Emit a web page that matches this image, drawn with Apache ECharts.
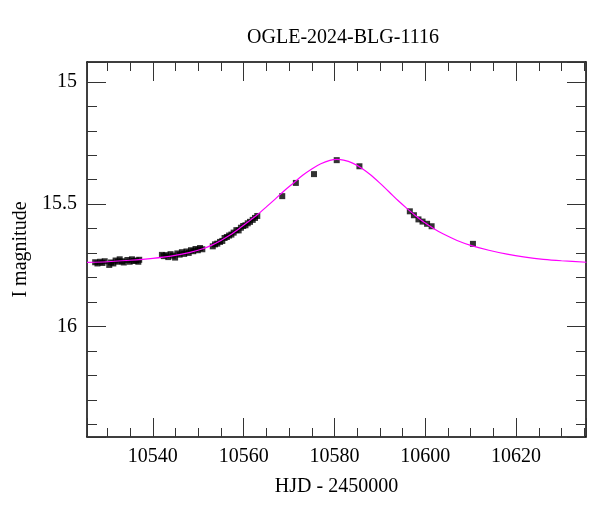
<!DOCTYPE html>
<html>
<head>
<meta charset="utf-8">
<script src="https://cdn.jsdelivr.net/npm/echarts@6/dist/echarts.min.js"></script>
<style>
html,body{margin:0;padding:0;background:#fff;}
#chart{width:600px;height:512px;}
</style>
</head>
<body>
<div id="chart"></div>
<script>
// Photometric observations (HJD-2450000, I mag)
var obsDays = [
  10527.3,10527.8,10528.4,10528.9,10529.4,10530.4,10530.8,10531.3,10531.8,10532.3,
  10532.7,10533.2,10533.6,10534.4,10534.9,10535.4,10535.8,10536.3,10536.8,10537.0,
  10542.0,10542.4,10542.9,10543.4,10543.9,10544.4,10544.9,10545.4,10545.9,10546.4,
  10546.9,10547.4,10547.9,10548.4,10548.9,10549.4,10549.9,10550.4,10550.9,
  10553.2,10553.7,10554.2,10554.8,10555.3,10555.8,10556.3,10556.8,10557.3,10557.8,
  10558.4,10558.9,10559.4,10559.9,10560.4,10560.9,10561.4,10562.0,10562.5,10563.0,
  10568.5,10571.5,10575.5,10580.5,10585.5,
  10596.6,10597.5,10598.5,10599.4,10600.4,10601.4,10610.5
];
var obsMags = [
  15.737,15.742,15.735,15.740,15.733,15.748,15.738,15.742,15.730,15.735,
  15.725,15.733,15.738,15.728,15.735,15.725,15.732,15.730,15.735,15.727,
  15.707,15.712,15.708,15.716,15.704,15.710,15.718,15.701,15.706,15.696,
  15.703,15.693,15.699,15.688,15.692,15.683,15.688,15.679,15.684,
  15.672,15.664,15.661,15.654,15.650,15.638,15.634,15.628,15.624,15.616,
  15.606,15.607,15.596,15.589,15.586,15.578,15.572,15.564,15.556,15.548,
  15.467,15.413,15.377,15.320,15.345,
  15.529,15.545,15.562,15.571,15.580,15.590,15.662
];
// Model curve values
var modelDays = [10525.5,10530,10535,10540,10544,10548,10551,10553,10555,10557,
  10559,10561,10563,10565,10567,10569,10571,10573,10575,10577,
  10579,10580.5,10582,10584,10586,10588,10590,10592,10594,10596,
  10598,10600,10602,10604,10607,10610,10614,10618,10622,10626,
  10630,10635.5];
var modelMags = [15.738,15.735,15.729,15.721,15.712,15.698,15.682,15.667,15.648,15.626,
  15.600,15.572,15.543,15.511,15.478,15.444,15.413,15.382,15.356,15.335,
  15.321,15.317,15.320,15.332,15.353,15.381,15.414,15.449,15.485,15.518,
  15.549,15.577,15.601,15.622,15.648,15.668,15.688,15.704,15.716,15.725,
  15.731,15.737];

var titleText = 'OGLE-2024-BLG-1116';
var xName = 'HJD - 2450000';
var yName = 'I magnitude';

var FONT = 'Liberation Serif';
var xMin = 10525.5, xMax = 10635.4, yMin = 14.919, yMax = 16.451;

var obs = obsDays.map(function(d,i){return [d, obsMags[i]];});
var model = modelDays.map(function(d,i){return [d, modelMags[i]];});

function xAxisCfg(pos, showLabel){
  return {
    type:'value', position:pos, min:xMin, max:xMax, minInterval:20, maxInterval:20,
    axisLine:{show:true, onZero:false, lineStyle:{color:'#000', width:1.5}},
    axisTick:{show:true, inside:true, length:19, lineStyle:{color:'#333', width:1}},
    minorTick:{show:true, splitNumber:4, length:9, lineStyle:{color:'#333', width:1}},
    splitLine:{show:false},
    axisLabel:{show:showLabel, margin:10, color:'#000', fontFamily:FONT, fontSize:20,
      formatter:function(v){return (Math.abs(v/20 - Math.round(v/20))<1e-6)? String(Math.round(v)) : '';}},
    name: showLabel ? xName : '', nameLocation:'middle', nameGap:40,
    nameTextStyle:{color:'#000', fontFamily:FONT, fontSize:20}
  };
}
function yAxisCfg(pos, showLabel){
  return {
    type:'value', position:pos, inverse:true, min:yMin, max:yMax, minInterval:0.5, maxInterval:0.5,
    axisLine:{show:true, onZero:false, lineStyle:{color:'#000', width:1.5}},
    axisTick:{show:true, inside:true, length:19, lineStyle:{color:'#333', width:1}},
    minorTick:{show:true, splitNumber:5, length:10, lineStyle:{color:'#333', width:1}},
    splitLine:{show:false},
    axisLabel:{show:showLabel, margin:10, color:'#000', fontFamily:FONT, fontSize:20,
      formatter:function(v){return (Math.abs(v*2 - Math.round(v*2))<1e-6)? String(Math.round(v*2)/2) : '';}},
    name: showLabel ? yName : '', nameLocation:'middle', nameGap:56, nameRotate:90,
    nameTextStyle:{color:'#000', fontFamily:FONT, fontSize:20}
  };
}

var chart = echarts.init(document.getElementById('chart'), null, {renderer:'canvas'});
chart.setOption({
  animation:false,
  backgroundColor:'#fff',
  title:{text:titleText, left:338, top:23, textAlign:'center',
    textStyle:{color:'#000', fontFamily:FONT, fontSize:20, fontWeight:'normal'}},
  grid:{left:87, top:62, width:499, height:375, containLabel:false},
  xAxis:[xAxisCfg('bottom', true), xAxisCfg('top', false)],
  yAxis:[yAxisCfg('left', true), yAxisCfg('right', false)],
  series:[
    {type:'scatter', xAxisIndex:0, yAxisIndex:0, data:obs, symbol:'rect', symbolSize:6,
      itemStyle:{color:'#000'}, z:2},
    {type:'line', xAxisIndex:0, yAxisIndex:0, data:model, smooth:0.3, showSymbol:false,
      lineStyle:{color:'#ff00ff', width:1.2}, z:3}
  ]
});
</script>
</body>
</html>
